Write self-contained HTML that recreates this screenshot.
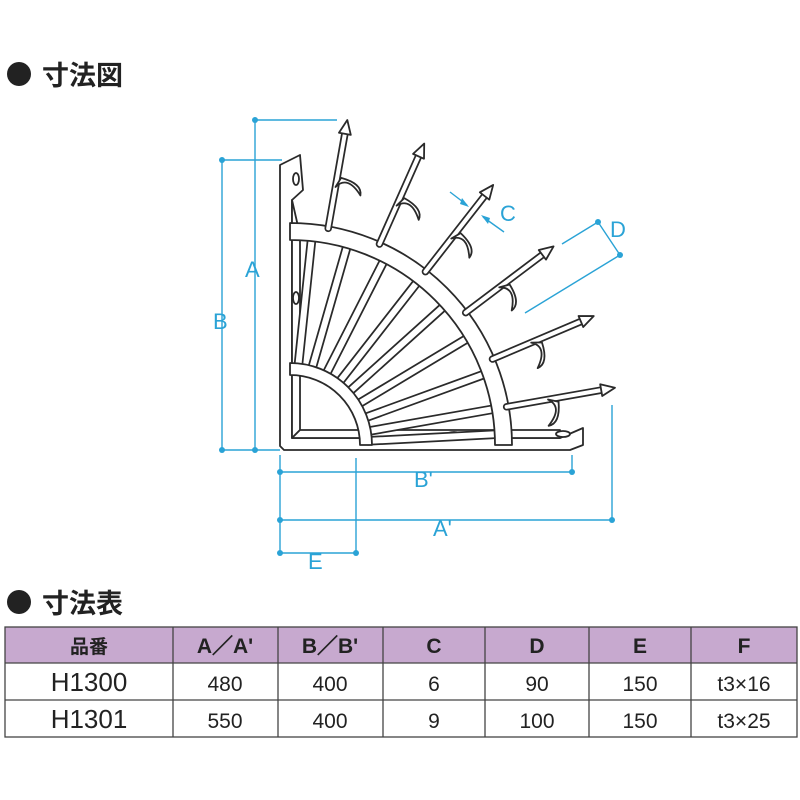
<!DOCTYPE html>
<html><head><meta charset="utf-8"><style>
body{margin:0;background:#fff;width:800px;height:800px;overflow:hidden;font-family:"Liberation Sans","Noto Sans CJK JP",sans-serif}
svg{position:absolute;left:0;top:0}
</style></head><body>
<svg id="s" width="800" height="800" viewBox="0 0 800 800" xmlns="http://www.w3.org/2000/svg">
<circle cx="19" cy="74" r="12" fill="#222"/>
<text x="42" y="85" font-size="27" font-weight="bold" fill="#222" font-family="Noto Sans CJK JP, sans-serif">寸法図</text>
<circle cx="19" cy="602" r="12" fill="#222"/>
<text x="42" y="613" font-size="27" font-weight="bold" fill="#222" font-family="Noto Sans CJK JP, sans-serif">寸法表</text>

<g id="bracket" stroke="#2a2a2a" stroke-width="1.8" fill="#fff" stroke-linejoin="round"></g>

<g stroke="#2aa3d6" stroke-width="1.4" fill="none">
<polyline points="337,120 255,120 255,450 222,450 222,160 282,160"/>
<line x1="255" y1="450" x2="280" y2="450"/>
<line x1="280" y1="455" x2="280" y2="555"/>
<line x1="280" y1="472" x2="572" y2="472"/>
<line x1="572" y1="455" x2="572" y2="472"/>
<line x1="356" y1="458" x2="356" y2="553"/>
<line x1="280" y1="553" x2="356" y2="553"/>
<line x1="280" y1="520" x2="612" y2="520"/>
<line x1="612" y1="405" x2="612" y2="520"/>
<line x1="562" y1="244" x2="598" y2="222"/>
<line x1="598" y1="222" x2="620" y2="255"/>
<line x1="525" y1="313" x2="620" y2="255"/>
<line x1="450" y1="192" x2="467" y2="205"/>
<line x1="483" y1="217" x2="504" y2="232"/>
</g>
<g fill="#2aa3d6">
<circle cx="255" cy="120" r="3"/><circle cx="222" cy="160" r="3"/>
<circle cx="222" cy="450" r="3"/><circle cx="255" cy="450" r="3"/>
<circle cx="280" cy="472" r="3"/><circle cx="572" cy="472" r="3"/>
<circle cx="280" cy="520" r="3"/><circle cx="612" cy="520" r="3"/>
<circle cx="280" cy="553" r="3"/><circle cx="356" cy="553" r="3"/>
<circle cx="598" cy="222" r="3"/><circle cx="620" cy="255" r="3"/>
<polygon points="469,207 462,198 460,204"/><polygon points="481,215 488,224 490,218"/>
</g>
<g fill="#2aa3d6" font-size="22">
<text x="245" y="277">A</text><text x="213" y="329">B</text>
<text x="414" y="487">B'</text><text x="433" y="536">A'</text>
<text x="308" y="569">E</text><text x="500" y="221">C</text><text x="610" y="237">D</text>
</g>

<g font-family="Liberation Sans, sans-serif">
<rect x="5" y="627" width="792" height="36" fill="#c7a9cf"/>
<g stroke="#444" stroke-width="1.3" fill="none">
<rect x="5" y="627" width="792" height="110"/>
<line x1="5" y1="663" x2="797" y2="663"/><line x1="5" y1="700" x2="797" y2="700"/>
<line x1="173" y1="627" x2="173" y2="737"/><line x1="278" y1="627" x2="278" y2="737"/>
<line x1="383" y1="627" x2="383" y2="737"/><line x1="485" y1="627" x2="485" y2="737"/>
<line x1="589" y1="627" x2="589" y2="737"/><line x1="691" y1="627" x2="691" y2="737"/>
</g>
<g text-anchor="middle" font-size="21" fill="#222">
<g font-weight="bold">
<text x="89" y="653" font-family="Noto Sans CJK JP, sans-serif" font-size="19">品番</text>
<text x="225" y="653">A／A'</text><text x="330" y="653">B／B'</text>
<text x="434" y="653">C</text><text x="537" y="653">D</text><text x="640" y="653">E</text><text x="744" y="653">F</text>
</g>
<text x="89" y="691" font-size="26">H1300</text><text x="89" y="728" font-size="26">H1301</text>
<text x="225" y="691">480</text><text x="330" y="691">400</text><text x="434" y="691">6</text><text x="537" y="691">90</text><text x="640" y="691">150</text><text x="744" y="691">t3×16</text>
<text x="225" y="728">550</text><text x="330" y="728">400</text><text x="434" y="728">9</text><text x="537" y="728">100</text><text x="640" y="728">150</text><text x="744" y="728">t3×25</text>
</g>
</g>
</svg>
<script>
var g=document.getElementById('bracket'),NS='http://www.w3.org/2000/svg';
function el(t,a){var e=document.createElementNS(NS,t);for(var k in a)e.setAttribute(k,a[k]);g.appendChild(e);return e;}
el('path',{d:'M280,165 L300,155 L303,190 L292,200 L292,438 L560,438 L583,428 L583,445 L570,450 L284,450 L280,446 Z'});
el('path',{d:'M292,200 L292,438 L300,430 L300,235 Z'});
el('path',{d:'M300,430 L292,438 L560,438 L560,430 Z'});
el('ellipse',{cx:296,cy:179,rx:3,ry:6});
el('ellipse',{cx:296,cy:298,rx:3,ry:6});
el('ellipse',{cx:454,cy:435,rx:7,ry:3});
el('ellipse',{cx:563,cy:434,rx:7,ry:3});
var cx=290,cy=445;
function P(r,a){a=a*Math.PI/180;return [cx+r*Math.cos(a),cy-r*Math.sin(a)];}
function band(r1,r2){var a=P(r1,90),b=P(r1,0),c=P(r2,0),d=P(r2,90);
el('path',{d:'M'+a+' A'+r1+','+r1+' 0 0 1 '+b+' L'+c+' A'+r2+','+r2+' 0 0 0 '+d+' Z'});}
function stroke(x1,y1,x2,y2,w){el('line',{x1:x1,y1:y1,x2:x2,y2:y2,'stroke-width':w+3.5,'stroke-linecap':'round'});
el('line',{x1:x1,y1:y1,x2:x2,y2:y2,stroke:'#fff','stroke-width':w,'stroke-linecap':'round'});}
var rib=[84,74,63,52,42,31,20,10,3];
rib.forEach(function(a){var p=P(78,a),q=P(208,a);stroke(p[0],p[1],q[0],q[1],6);});
band(205,222);
band(70,82);
[80,66,52,37,23,10].forEach(function(a){
 var p=P(220,a),q=P(318,a);stroke(p[0],p[1],q[0],q[1],4);
 var r=a*Math.PI/180,ux=Math.cos(r),uy=-Math.sin(r),nx=-uy,ny=ux;
 var t=P(330,a),b=P(316,a);
 el('polygon',{points:t[0]+','+t[1]+' '+(b[0]+nx*6)+','+(b[1]+ny*6)+' '+(b[0]-nx*6)+','+(b[1]-ny*6)});
 var m=P(262,a);
 el('path',{d:'M'+m[0]+','+m[1]+' q'+(ux*14+nx*10)+','+(uy*14+ny*10)+' '+(nx*26-ux*4)+','+(ny*26-uy*4)+' q'+(ux*12)+','+(uy*12)+' '+(-nx*22+ux*14)+','+(-ny*22+uy*14)+' Z'});
});
</script>
</body></html>
